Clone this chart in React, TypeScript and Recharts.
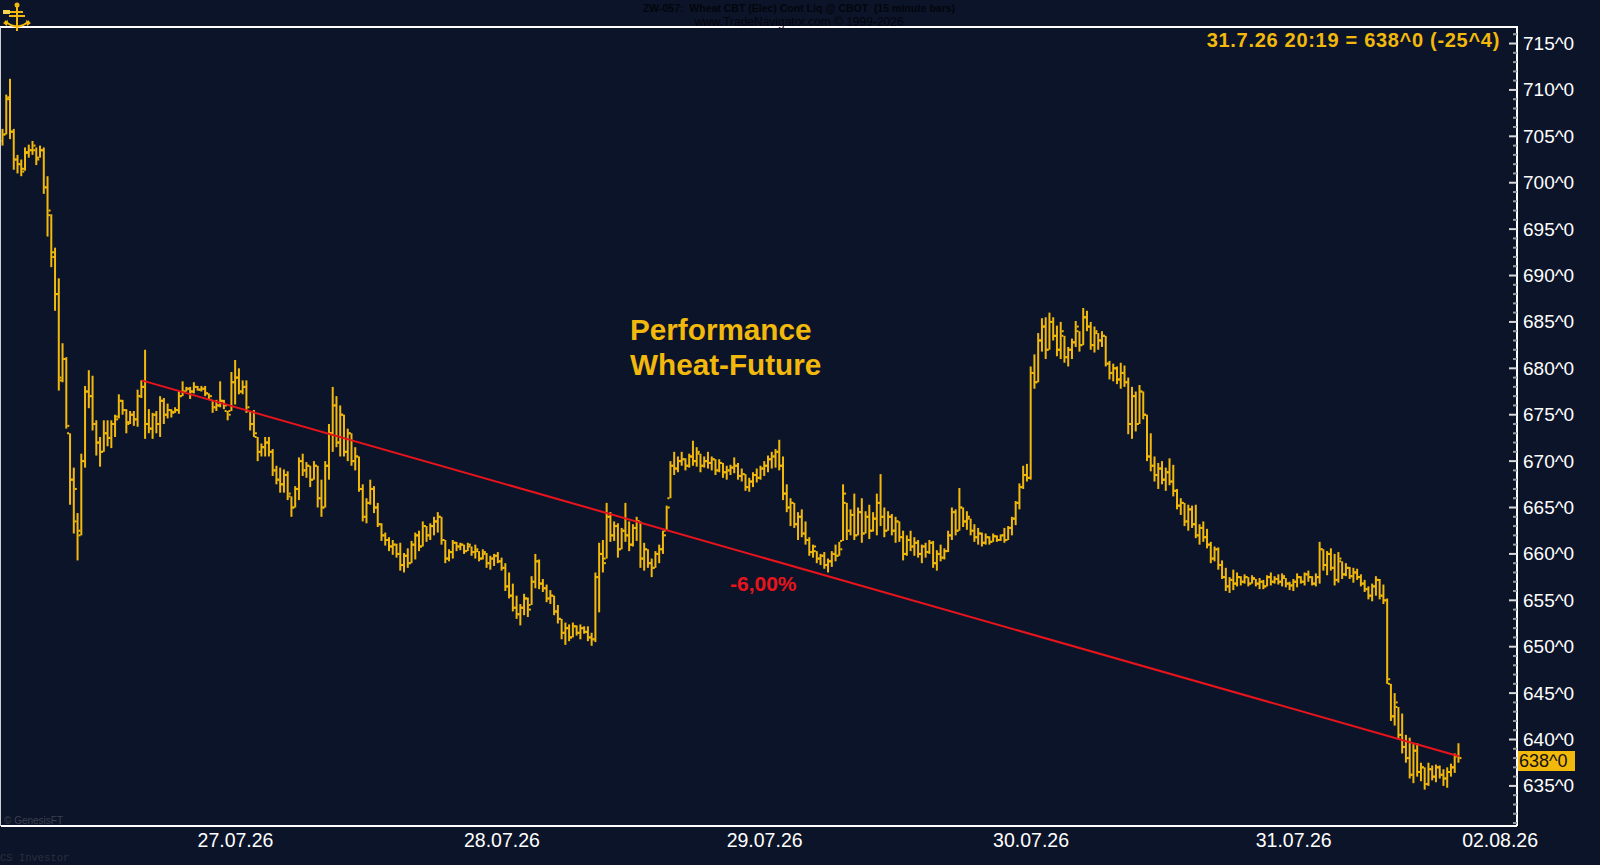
import { Bar, ComposedChart, ReferenceLine, XAxis, YAxis } from 'recharts';

const BG = '#0c1429';
const GOLD = '#f2b90c';
const TREND_RED = '#e8141c';

// 15 minute OHLC bars [open, high, low, close], one array per trading day
const barsJul26 = [
  [704.5, 705.8, 704, 705.2], [705.2, 709.5, 705.2, 709.2], [709, 711.2, 704.7, 705.5], [705.5, 705.8, 701.4, 702.5],
  [702.5, 703, 701, 702], [702, 702.5, 700.7, 701.2], [701.5, 703.8, 701.3, 703.3], [703.2, 704.1, 702.7, 703.5],
  [703.5, 704.5, 703, 704], [703.5, 703.8, 701.9, 702.5], [702.7, 704, 702.7, 703.5], [703.5, 703.8, 698.8, 699.5],
  [699.5, 700.7, 694.2, 697], [696.5, 696.6, 690.9, 692], [692.5, 693, 686.2, 688], [688, 689.7, 677.6, 678.7],
  [679, 682.7, 678.5, 681], [681, 681.2, 673.5, 673.8], [673, 673, 665.3, 668], [668, 669.3, 662.2, 667],
  [663.5, 664.4, 659.3, 662], [662.5, 670.8, 662, 670], [670, 678.1, 669.3, 677.5], [677.5, 679.8, 675.7, 677],
  [677, 679.2, 673.3, 674], [674, 674.4, 670.6, 672], [672, 672.6, 669.4, 671], [671, 674.4, 671, 673],
  [673, 674.4, 671.6, 672.5], [672.5, 674.4, 671.4, 674], [674, 675, 672.6, 674.5], [674.8, 677.2, 674.6, 676.5],
  [676.5, 676.6, 675, 675.5], [675.5, 675.6, 673, 674], [674.2, 675.4, 674, 675], [675, 675.4, 673.8, 674.5],
  [674.5, 677.7, 673.7, 677], [677, 678.7, 676.8, 678], [678, 682, 672.4, 674], [674, 675.6, 673, 673.5],
  [673.5, 675.2, 672.4, 675], [675, 675.4, 673, 674], [674, 677, 672.6, 676.5], [676.5, 676.8, 674, 675],
  [675, 676.2, 674.6, 675.5], [675.5, 675.6, 674.7, 675.2], [675.3, 675.8, 675.2, 675.5], [675.5, 677.5, 675.1, 677],
  [677, 678.6, 677, 677.5], [677.5, 678, 677.5, 677.8], [677.8, 678, 676.7, 677.5], [677.5, 678.5, 677.3, 678],
  [678, 678.1, 677.6, 677.7], [677.7, 678.1, 677.5, 677.8], [677.8, 678.1, 677, 677.3], [677.3, 677.3, 676.7, 677],
  [676.6, 676.6, 675.2, 675.8], [675.8, 676.6, 675.4, 676], [676, 678.6, 675.8, 676.5], [676.5, 676.6, 675.6, 676],
  [675.4, 675.4, 674.4, 675], [675.4, 679.6, 675.4, 678.5],
];

const barsJul27 = [
  [678.5, 680.9, 676.1, 679], [679, 680, 677.2, 677.5], [677.5, 678.7, 677.2, 678], [678, 678.7, 675.2, 675.8],
  [675.4, 675.4, 673.3, 674], [674, 675.5, 672.6, 673], [672.6, 672.6, 670, 671], [671, 671.9, 670.5, 671.5],
  [671.5, 672.6, 670.5, 672], [672, 672.6, 670.5, 671], [671, 671.3, 668.4, 669], [669, 669.5, 667.5, 668],
  [668, 669.3, 666.6, 667.5], [667.5, 669.1, 666.6, 668.5], [668.5, 668.9, 665.8, 666.5], [666.2, 666.2, 664, 665],
  [665, 667.3, 665, 667], [667, 670.4, 665.8, 670], [670, 670.8, 668.4, 669], [669, 669.9, 668.2, 669.5],
  [669.5, 669.5, 667.2, 668], [668, 670, 668, 669.5], [669.5, 669.5, 665, 666], [666, 668, 664, 665],
  [665, 670, 665, 669.5], [669.5, 674, 668, 673], [673, 678, 671, 676], [676, 677, 671.5, 672],
  [672, 676, 670.5, 675], [675, 675, 670.5, 671], [671, 673.5, 670, 673], [673, 673, 669.5, 670],
  [670, 671.5, 669, 670.5], [670.5, 670.5, 666.7, 667], [667, 667.5, 663.5, 664], [664, 666, 663.3, 665.5],
  [665.5, 668, 665.3, 667], [667, 667.3, 664.4, 665], [665, 665.5, 662.9, 663.2], [663.2, 663.3, 661.4, 662],
  [662, 662.3, 660.9, 661.5], [661.5, 661.8, 660.3, 660.8], [660.8, 661.5, 659.9, 661], [661, 661.1, 659.6, 660],
  [660, 661.2, 658.2, 658.8], [658.8, 660.1, 658, 659.8], [659.8, 660.6, 658.5, 659], [659, 661.4, 659, 661],
  [661, 662.3, 659.4, 662], [662, 662.5, 660.3, 660.8], [660.8, 663.5, 660.8, 663], [663, 663, 661.3, 662],
  [662, 663.3, 661.5, 663], [663, 664, 662, 663.5], [663.5, 664.5, 662.3, 664], [664, 664, 661, 661.5],
  [661.5, 661.5, 659, 659.5], [659.5, 660.5, 659.2, 660.2], [660.2, 661.5, 659.5, 661.2], [661.2, 661.3, 660.3, 660.8],
  [660.8, 661.2, 660.4, 661], [661, 661, 660, 660.3], [660.3, 661.2, 660.3, 661], [660.8, 660.8, 659.8, 660.2],
  [660.2, 661, 659.5, 660.5], [660.3, 660.3, 659.2, 659.5], [659.5, 660.5, 659.4, 660.2], [660, 660.1, 658.5, 659],
  [659, 659.8, 658.3, 659.5], [659.5, 660, 658.7, 659.8], [659.8, 660.2, 659, 659.2],
];

const barsJul28 = [
  [659.2, 659.6, 658.2, 658.5], [658.5, 659, 656, 656.5], [656.5, 658, 655.2, 655.5], [655.5, 656.8, 653.8, 654.2],
  [654.2, 655.5, 653, 653.5], [653.5, 654.6, 652.3, 654.2], [654.2, 655.7, 653.4, 655.2], [655.2, 655.3, 653.2, 654],
  [654.5, 657.6, 654.5, 657], [657, 660, 656.3, 659.2], [659.2, 659.4, 656.2, 656.8], [656.8, 657.3, 655.9, 656.3],
  [656.3, 656.7, 654.8, 655.2], [655.2, 656.1, 654.6, 655.5], [655.5, 655.5, 653.4, 653.8], [653.8, 654.5, 652.5, 653],
  [653, 653, 650.8, 651.5], [651.5, 652.6, 650.2, 652], [652, 652.4, 650.6, 651], [651, 652.6, 651, 652.2],
  [652.2, 652.3, 651.2, 651.5], [651.5, 652.4, 650.8, 652], [652, 652.2, 651.4, 651.6], [651.6, 652.2, 650.6, 651],
  [651, 651.5, 650.1, 650.8], [650.8, 658, 650.5, 657.5], [657.5, 661.2, 653.7, 660], [660, 661.5, 658, 659],
  [659.5, 665.5, 659.5, 664], [664, 664.5, 661.3, 662], [662, 663.5, 661.4, 663], [663, 663.3, 659.6, 660.5],
  [660.5, 662.8, 660.5, 662.5], [662.5, 665.5, 661.3, 662], [662, 663.5, 660.3, 661], [661, 663.2, 660.8, 662.8],
  [662.8, 664, 661.4, 663.5], [663.5, 663.5, 658.5, 659.5], [659.5, 661.2, 658.2, 660.5], [660.5, 660.5, 658.5, 659],
  [659, 659.5, 657.5, 658.5], [658.5, 660.3, 658.5, 660], [660, 661, 659, 660.5], [660.5, 662.5, 660, 662],
  [662.5, 665.2, 662.5, 665], [666, 670, 666, 669.5], [669.5, 671, 668.5, 669.2], [669.2, 670.5, 668.8, 670],
  [670, 671, 669.5, 670.2], [670.2, 670.3, 669, 669.5], [669.5, 670.8, 669.3, 670.5], [670.5, 672.2, 669.5, 670],
  [670, 671.5, 669.4, 671], [670.8, 670.8, 668.8, 669.5], [669.5, 670.5, 669.3, 670], [670, 671, 669.2, 669.8],
  [669.8, 670.5, 669, 670.2], [670.2, 670.2, 668.5, 669], [669, 670.2, 668.8, 669.8], [669.8, 669.8, 668.2, 668.8],
  [668.8, 669.5, 668, 669], [669, 669.6, 668.5, 669.3], [669.3, 670.4, 668.7, 669.5], [669.5, 669.8, 668, 668.4],
  [668.4, 669.2, 667.8, 668.6], [668.6, 668.6, 666.8, 667.2], [667.2, 668.2, 666.7, 667.8], [667.8, 668.8, 667.2, 668.5],
  [668.5, 669.2, 667.7, 668.2], [668.2, 669.5, 668, 669.2],
];

const barsJul29 = [
  [669.2, 670, 668.4, 669.5], [669.5, 670.6, 668.8, 670.2], [670.2, 671, 669.2, 670.5], [670.5, 671.3, 669.3, 671],
  [671, 672.3, 669, 669.5], [669.5, 670.5, 665.8, 666.5], [666.5, 667.5, 664.5, 665], [665, 666, 663, 665.5],
  [665.5, 665.5, 662.8, 663.2], [663.2, 664.5, 661.5, 664], [664, 664.8, 661.8, 662.2], [662.2, 663.5, 661, 661.5],
  [661.5, 661.8, 659.8, 660.2], [660.2, 661, 659.6, 660.8], [660.3, 660.3, 659, 659.5], [659.5, 660, 658.8, 659.8],
  [659.8, 660.2, 658.4, 658.8], [658.8, 659.5, 658, 659.2], [659.2, 660.3, 658.6, 660], [660, 661, 659.2, 659.8],
  [659.8, 661.3, 659.8, 660.5], [661.4, 667.5, 661.4, 666.5], [665.5, 665.5, 661.5, 662.5], [662.5, 664.8, 662, 664.2],
  [664.2, 666.5, 661.5, 662], [662, 665, 662, 664.5], [664.5, 666, 661.2, 662.2], [662.2, 664.6, 662.2, 664],
  [664, 665.3, 661.6, 662.5], [662.5, 664.5, 662.4, 663.8], [663.8, 666.5, 662, 665.5], [665.5, 668.6, 663, 664],
  [664, 665, 661.8, 662.5], [662.5, 664.6, 662.5, 664], [664, 664.3, 662, 662.5], [662.5, 664, 661.2, 663.5],
  [663.5, 663.5, 661.3, 661.8], [661.8, 662.5, 659.3, 660], [660, 662, 659.8, 661.5], [661.5, 662.5, 660.3, 660.8],
  [660.8, 661.8, 659.8, 661.2], [661.2, 661.5, 659.6, 660], [660, 661, 659, 660.8], [660.8, 661.2, 659.6, 660.2],
  [660.2, 661.5, 660, 661.2], [661.2, 661.4, 658.5, 659], [659, 660.4, 658.2, 660], [660, 661, 659.2, 659.6],
  [659.6, 660.6, 659.4, 660.3], [660.3, 662.5, 660.2, 662], [662, 665, 661.5, 664.5], [664.5, 664.8, 662, 662.5],
  [662.5, 667.1, 662.5, 665], [665, 665, 662.9, 663.5], [663.5, 664.6, 662.6, 664], [663.8, 663.8, 662, 662.5],
  [662.5, 663.2, 661.3, 661.8], [661.8, 662.8, 661, 662.2], [662.2, 662.3, 660.8, 661.2], [661.2, 662.2, 661, 661.8],
  [661.8, 661.9, 661, 661.3], [661.3, 662.2, 661.3, 661.9], [661.9, 662, 661.3, 661.5], [661.5, 662.1, 661.4, 662],
  [662, 662.8, 661.2, 661.5], [661.5, 663, 661.5, 662.8], [662.8, 664, 662, 663.8], [663.8, 665.7, 663.1, 665.5],
  [665.5, 667.6, 664.8, 667.2], [667.2, 669.5, 667, 668.5], [668.5, 669.7, 667.8, 668.2],
];

const barsJul30 = [
  [668.2, 680.2, 668, 679.5], [679.5, 681.5, 677.8, 678.5], [678.5, 683.8, 678.5, 683], [683, 685.4, 681.8, 684.5],
  [684.5, 685.5, 681, 682], [682, 686, 682, 685], [685, 685.5, 683, 683.5], [683.5, 684.6, 681.3, 682],
  [682, 685, 681, 684], [683.5, 683.5, 680.6, 681.2], [681.2, 682.3, 680.2, 682], [682, 683.2, 681, 682.8],
  [682.8, 685.1, 682.3, 684.5], [684, 684, 681.8, 682.5], [682.5, 686.5, 682.5, 685.5], [685.5, 686.2, 684, 684.5],
  [684.5, 685, 682, 682.5], [682.5, 684.5, 681.7, 684], [683.8, 683.8, 682, 683], [683, 684, 682.3, 683.5],
  [683.5, 683.5, 680.2, 680.5], [680.5, 680.8, 678.8, 679.5], [679.5, 680.5, 678.6, 680], [680, 680.2, 678.3, 678.8],
  [678.8, 680.6, 677.8, 679.5], [679.5, 680.3, 678, 678.5], [678.5, 679, 672.9, 674], [674, 678, 672.4, 677],
  [677, 677.5, 673.2, 674], [674, 678.2, 674, 677.5], [677.5, 677.5, 674.5, 675], [675, 675, 670, 670.5],
  [670.5, 673, 668.9, 669.5], [669.5, 670.5, 667.8, 668.5], [668.5, 669.8, 667, 669.2], [669.2, 670, 667.5, 668],
  [668, 669.3, 666.8, 668.8], [668.8, 670.3, 667.4, 667.8], [667.8, 669.6, 666.2, 666.8], [666.8, 667, 664.8, 665.2],
  [665.2, 666, 664.2, 665.5], [665.5, 665.5, 663, 663.5], [663.5, 665.3, 662.5, 664.8], [664.8, 665.2, 662.8, 663.2],
  [663.2, 665.3, 661.7, 662], [662, 663.2, 661, 662.8], [662.8, 663.5, 661.3, 661.8], [661.8, 662.7, 660.6, 661],
  [661, 661.3, 659, 659.5], [659.5, 660.8, 659.2, 660.5], [660.5, 660.7, 658.3, 658.8], [658.8, 659.3, 657.3, 657.5],
  [657.5, 658.5, 656, 656.5], [656.5, 657.5, 655.8, 657.2], [657.2, 658.3, 656.1, 656.8], [656.8, 658, 656.5, 657.5],
  [657.5, 657.6, 656.6, 657], [657, 657.8, 656.8, 657.5], [657.5, 657.5, 656.5, 656.8], [656.8, 657.7, 656.8, 657.4],
  [657.3, 657.3, 656.5, 656.8], [656.8, 657.4, 656.2, 657], [657, 657.2, 656.2, 656.5], [656.5, 657.7, 656.5, 657.5],
  [657.5, 658, 656.6, 657], [657, 657.6, 656.8, 657.3], [657.3, 657.8, 656.7, 657], [657, 657.9, 656.5, 657.6],
  [657.4, 657.4, 656.4, 656.8], [656.8, 657, 656.1, 656.6],
];

const barsJul31 = [
  [656.6, 657.3, 656, 657], [657, 657.9, 656.4, 657.5], [657.5, 657.6, 656.8, 657], [657, 658, 656.6, 657.8],
  [657.8, 658.2, 657, 657.5], [657.5, 657.6, 656.6, 656.8], [656.8, 657.9, 656.5, 657.5], [657.5, 661.3, 656.8, 660.5],
  [660.5, 660.5, 658.2, 658.8], [658.8, 660.3, 657.7, 660], [660, 660.6, 658.2, 658.5], [658.5, 660, 656.6, 657.2],
  [657.2, 660.2, 656.9, 659.5], [659.2, 659.2, 657.3, 657.8], [657.8, 659, 657.6, 658.5], [658.5, 658.6, 657.3, 657.6],
  [657.6, 658.5, 656.9, 658], [658, 658.4, 657.2, 657.5], [657.5, 657.8, 656.5, 656.8], [656.8, 657.2, 655.9, 656.2],
  [656.2, 656.5, 655.1, 655.5], [655.5, 656.8, 654.9, 656.5], [656.5, 657.6, 655.5, 657.2], [657.2, 657.3, 655.1, 655.5],
  [655.5, 656.7, 654.6, 655], [655, 655.2, 646, 646.5], [646, 646, 642, 642.5], [642.5, 645, 641.5, 644],
  [643.5, 643.5, 640, 640.5], [640.5, 642.8, 638.5, 639.2], [639.2, 640.5, 637.5, 638], [638, 640.2, 635.8, 636.2],
  [636.2, 639.5, 635.3, 638.8], [638.8, 639.6, 636, 636.5], [636.5, 637.5, 635.5, 637], [637, 637, 634.6, 635.2],
  [635.2, 637.5, 635, 636.8], [636.8, 637.2, 635.6, 636], [636, 637.3, 635.4, 637], [637, 637.2, 635.8, 636.2],
  [636.2, 636.8, 635, 635.8], [635.8, 637, 634.8, 636.5], [636.5, 637.4, 636, 637], [637, 638.5, 636.4, 638.2],
  [638.2, 639.6, 637.5, 638],
];

// bar slot where each date label sits
const dateLabels = [
  { i: 62, label: '27.07.26' },
  { i: 133, label: '28.07.26' },
  { i: 203, label: '29.07.26' },
  { i: 274, label: '30.07.26' },
  { i: 344, label: '31.07.26' },
  { i: 399, label: '02.08.26' },
];

const priceDomain = [630.68, 716.78];
const trendLine = [
  { i: 37, p: 678.7 },
  { i: 388, p: 638.2 },
];
const lastPrice = '638^0';

const SLOT_COUNT = 404;
const allBars = [...barsJul26, ...barsJul27, ...barsJul28, ...barsJul29, ...barsJul30, ...barsJul31];
const chartData = Array.from({ length: SLOT_COUNT }, (_, i) => {
  const b = allBars[i];
  if (!b) return { i };
  return { i, o: b[0], h: b[1], l: b[2], c: b[3], range: [b[2], b[1]] };
});
// one small tick per cent, labelled every 5
const minorTicks = Array.from({ length: 86 }, (_, k) => 631 + k);
const labelByIndex = new Map(dateLabels.map((d) => [d.i, d.label]));

function OhlcBar(props: any) {
  const { x, y, width, height, payload } = props;
  if (!payload || payload.h == null) return null;
  const cx = x + width / 2;
  const span = payload.h - payload.l;
  const py = (v: number) => (span > 0 ? y + ((payload.h - v) / span) * height : y);
  return (
    <g fill={GOLD}>
      <rect x={cx - 1} y={y} width={2} height={Math.max(height, 1.5)} />
      <rect x={cx - 3} y={py(payload.o) - 1} width={2} height={2} />
      <rect x={cx + 1} y={py(payload.c) - 1} width={2} height={2} />
    </g>
  );
}

function DateTick(props: any) {
  const { x, y, payload } = props;
  const label = labelByIndex.get(payload.value);
  if (!label) return null;
  return (
    <text x={x} y={y + 14} textAnchor="middle" dominantBaseline="central" fill="#ffffff" fontSize={19.5}>
      {label}
    </text>
  );
}

function PriceTick(props: any) {
  const { x, y, payload } = props;
  const v = payload.value;
  const major = v % 5 === 0;
  return (
    <g>
      <line x1={x - (major ? 8 : 4)} x2={x} y1={y} y2={y} stroke={major ? '#d8d8d8' : '#9a9a9a'} strokeWidth={2} />
      {major && (
        <text x={x + 6} y={y} dominantBaseline="central" fill="#ffffff" fontSize={19}>
          {`${v}^0`}
        </text>
      )}
    </g>
  );
}

function Logo() {
  return (
    <svg width={34} height={34} style={{ position: 'absolute', left: 0, top: 0 }}>
      <g stroke={GOLD} strokeWidth={2} fill="none">
        <line x1={17} y1={4} x2={17} y2={31} />
        <line x1={4} y1={12} x2={23} y2={12} />
        <path d="M5 21 Q17 32 29 21" />
        <line x1={9} y1={16} x2={25} y2={16} />
      </g>
      <circle cx={17} cy={5} r={2.5} fill={GOLD} />
      <rect x={3} y={10} width={7} height={4} fill="#f7d452" />
      <path d="M3 23 L8 20 L7 26 Z M31 23 L26 20 L27 26 Z" fill={GOLD} />
    </svg>
  );
}

export default function App() {
  return (
    <div
      style={{
        position: 'fixed',
        left: 0,
        top: 0,
        width: 1600,
        height: 865,
        background: BG,
        fontFamily: '"Liberation Sans", Arial, sans-serif',
        overflow: 'hidden',
      }}
    >
      <ComposedChart width={1600} height={865} data={chartData} margin={{ top: 27, right: 0, bottom: 0, left: 1 }}>
        <XAxis
          dataKey="i"
          type="category"
          height={39}
          interval={0}
          tickSize={0}
          tickMargin={0}
          tickLine={false}
          axisLine={{ stroke: '#ffffff', strokeWidth: 2 }}
          tick={<DateTick />}
        />
        <YAxis
          orientation="right"
          type="number"
          width={83}
          domain={priceDomain}
          allowDataOverflow
          ticks={minorTicks}
          interval={0}
          tickSize={0}
          tickMargin={0}
          tickLine={false}
          axisLine={{ stroke: '#ffffff', strokeWidth: 2 }}
          tick={<PriceTick />}
        />
        <Bar dataKey="range" shape={<OhlcBar />} barSize={3} isAnimationActive={false} />
        <ReferenceLine
          segment={trendLine.map((t) => ({ x: t.i, y: t.p }))}
          stroke={TREND_RED}
          strokeWidth={2}
          ifOverflow="visible"
        />
      </ComposedChart>

      {/* frame lines that the axes do not draw */}
      <div style={{ position: 'absolute', left: 0, top: 26, width: 1518, height: 2, background: '#ffffff' }} />
      <div style={{ position: 'absolute', left: 0, top: 27, width: 1, height: 799, background: '#cfcfcf' }} />

      <Logo />

      <div
        style={{
          position: 'absolute',
          left: 0,
          width: 1598,
          top: 2,
          textAlign: 'center',
          fontSize: 10.5,
          fontWeight: 'bold',
          color: '#03060c',
          lineHeight: '12px',
        }}
      >
        ZW-057:&nbsp; Wheat CBT (Elec) Cont Liq @ CBOT&nbsp; (15 minute bars)
      </div>
      <div
        style={{
          position: 'absolute',
          left: 0,
          width: 1598,
          top: 15,
          textAlign: 'center',
          fontSize: 12,
          color: '#03060c',
          lineHeight: '15px',
        }}
      >
        www.TradeNavigator.com © 1999-2026
      </div>

      <div
        style={{
          position: 'absolute',
          right: 100,
          top: 29,
          fontSize: 20,
          fontWeight: 'bold',
          letterSpacing: 0.7,
          color: GOLD,
          lineHeight: '22px',
        }}
      >
        31.7.26 20:19 = 638^0 (-25^4)
      </div>

      <div
        style={{
          position: 'absolute',
          left: 630,
          top: 312,
          fontSize: 29.7,
          fontWeight: 'bold',
          color: GOLD,
          lineHeight: '35px',
        }}
      >
        Performance
        <br />
        Wheat-Future
      </div>

      <div
        style={{
          position: 'absolute',
          left: 730,
          top: 571,
          fontSize: 21,
          fontWeight: 'bold',
          color: TREND_RED,
          lineHeight: '25px',
        }}
      >
        -6,00%
      </div>

      <div
        style={{
          position: 'absolute',
          left: 1518,
          top: 751,
          width: 56,
          height: 20,
          background: GOLD,
          color: '#111111',
          fontSize: 18,
          lineHeight: '20px',
          paddingLeft: 1,
        }}
      >
        {lastPrice}
      </div>

      <div style={{ position: 'absolute', left: 4, top: 814, fontSize: 10, lineHeight: '13px', color: '#3a404e' }}>
        © GenesisFT
      </div>
      <div
        style={{
          position: 'absolute',
          left: 0,
          top: 852,
          fontSize: 10.5,
          lineHeight: '13px',
          color: '#2a2f3c',
          fontFamily: '"Liberation Mono", monospace',
        }}
      >
        CS Investor
      </div>
    </div>
  );
}
